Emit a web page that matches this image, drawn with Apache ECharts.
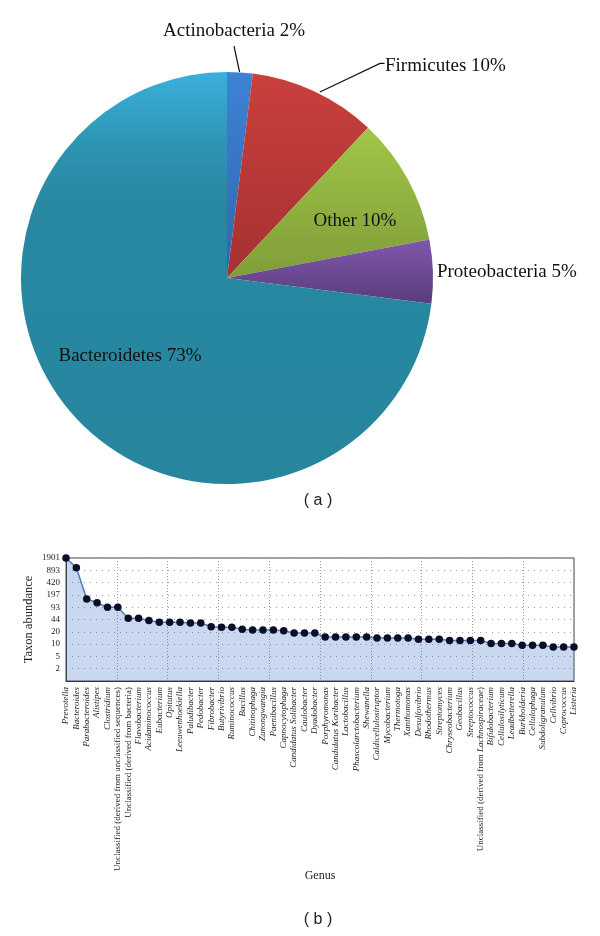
<!DOCTYPE html>
<html><head><meta charset="utf-8">
<script src="https://cdn.jsdelivr.net/npm/echarts@6/dist/echarts.min.js"></script>
<style>html,body{margin:0;padding:0;background:#fff}#c{width:600px;height:936px}</style>
</head><body><div id="c"></div>
<script>
// ---- data ----
const phylaNames = ['Actinobacteria', 'Firmicutes', 'Other', 'Proteobacteria', 'Bacteroidetes'];
const phylaPercents = [2, 10, 10, 5, 73];

const genera = ['Prevotella','Bacteroides','Parabacteroides','Alistipes','Clostridium',
 'Unclassified (derived from unclassified sequences)','Unclassified (derived from bacteria)',
 'Flavobacterium','Acidaminococcus','Eubacterium','Opitutus','Leeuwenhoekiella','Paludibacter',
 'Pedobacter','Fibrobacter','Butyrivibrio','Ruminococcus','Bacillus','Chitinophaga','Zunongwangia',
 'Paenibacillus','Capnocytophaga','Candidatus Solibacter','Caulobacter','Dyadobacter','Porphyromonas',
 'Candidatus Koribacter','Lactobacillus','Phascolarctobacterium','Shewanella','Caldicellulosiruptor',
 'Mycobacterium','Thermotoga','Xanthomonas','Desulfovibrio','Rhodothermus','Streptomyces',
 'Chryseobacterium','Geobacillus','Streptococcus','Unclassified (derived from Lachnospiraceae)',
 'Bifidobacterium','Cellulosilyticum','Leadbetterella','Burkholderia','Cellulophaga',
 'Subdoligranulum','Cellvibrio','Coprococcus','Listeria'];
const abundances = [1901, 1050, 153, 122, 92, 92, 47, 47, 41, 37, 37, 37, 35,
 35, 28, 27, 27, 24, 23, 23, 23, 22, 19, 19, 19, 15,
 15, 15, 15, 15, 14, 14, 14, 14, 13, 13, 13,
 12, 12, 12, 12, 10, 10, 10, 9, 9, 9, 8, 8, 8];
// tick labels from the axis minimum (1) upward
const yTickLabels = ['', '2', '5', '10', '20', '44', '93', '197', '420', '893', '1901'];
const yMin = 1, yMax = 1901;

// ---- styling / layout ----
const serif = 'Liberation Serif';
const pieCenter = [227, 278], pieRadius = 206;
const logBase = Math.pow(yMax / yMin, 1 / (yTickLabels.length - 1));

const sliceColors = {
  Actinobacteria: ['#3f82d4', '#2f66b2'],
  Firmicutes: ['#c9403c', '#a53131'],
  Other: ['#a0c646', '#7f9d3a'],
  Proteobacteria: ['#8058ab', '#5a3c7c']
};
function grad(c) {
  return new echarts.graphic.LinearGradient(0, 0, 0, 1, [{offset: 0, color: c[0]}, {offset: 1, color: c[1]}]);
}
const bacteroidetesFill = new echarts.graphic.LinearGradient(0, 0, 0, 1, [
  {offset: 0, color: '#3ab0dc'}, {offset: 0.18, color: '#2d94b2'},
  {offset: 0.32, color: '#2888a1'}, {offset: 1, color: '#27869e'}]);

// label anchors relative to pie centre, in units of radius
const labelSpots = {
  Actinobacteria: {at: [0.034, -1.2], align: 'center', line: [[0.061, -1.0], [0.034, -1.126]]},
  Firmicutes: {at: [0.767, -1.03], align: 'left', line: [[0.451, -0.903], [0.743, -1.042], [0.765, -1.042]]},
  Other: {at: [0.621, -0.277], align: 'center'},
  Proteobacteria: {at: [1.019, -0.027], align: 'left'},
  Bacteroidetes: {at: [-0.471, 0.381], align: 'center'}
};
function pt(a) { return [pieCenter[0] + a[0] * pieRadius, pieCenter[1] + a[1] * pieRadius]; }

const pieData = phylaNames.map((n, i) => ({
  name: n, value: phylaPercents[i],
  itemStyle: {color: n === 'Bacteroidetes' ? bacteroidetesFill : grad(sliceColors[n])},
  labelLine: {show: !!labelSpots[n].line}
}));

const chart = echarts.init(document.getElementById('c'), null, {renderer: 'canvas'});
chart.setOption({
  animation: false,
  backgroundColor: '#fff',
  title: [
    {text: '( a )', left: 318, top: 493, textAlign: 'center', padding: 0,
     textStyle: {fontFamily: 'Liberation Sans', fontSize: 16, fontWeight: 'normal', color: '#222'}},
    {text: '( b )', left: 318, top: 912, textAlign: 'center', padding: 0,
     textStyle: {fontFamily: 'Liberation Sans', fontSize: 16, fontWeight: 'normal', color: '#222'}}
  ],
  grid: {left: 66, right: 26, top: 558, height: 123, show: true, borderColor: '#444', borderWidth: 1},
  xAxis: [{
    type: 'category', data: genera, boundaryGap: false,
    name: 'Genus', nameLocation: 'middle', nameGap: 189, nameMoveOverlap: false,
    nameTextStyle: {fontFamily: serif, fontSize: 12, color: '#222'},
    axisLine: {lineStyle: {color: '#333', width: 1}},
    axisTick: {show: false},
    axisLabel: {
      interval: 0, rotate: 90, margin: 6, color: '#222', fontFamily: serif, fontSize: 9,
      formatter: function (name) {
        if (name.indexOf('Lachnospiraceae') >= 0) return '{n|Unclassified (derived from }{i|Lachnospiraceae}{n|)}';
        if (name.indexOf('Unclassified') === 0) return '{n|' + name + '}';
        return '{i|' + name + '}';
      },
      rich: {
        n: {fontFamily: serif, fontSize: 9, fontStyle: 'normal', color: '#222'},
        i: {fontFamily: serif, fontSize: 9, fontStyle: 'italic', color: '#222'}
      }
    },
    splitLine: {show: false}
  }, {
    type: 'value', position: 'top', min: 0, max: 10, interval: 1,
    axisLine: {show: false}, axisTick: {show: false}, axisLabel: {show: false},
    splitLine: {show: true, lineStyle: {type: [1, 2], color: '#9a9a9a', width: 1}}
  }],
  yAxis: {
    type: 'log', logBase: logBase, min: yMin, max: yMax, interval: 1, splitNumber: 10,
    name: 'Taxon abundance', nameLocation: 'middle', nameGap: 31, nameRotate: 90, nameMoveOverlap: false,
    nameTextStyle: {fontFamily: serif, fontSize: 12.5, color: '#222'},
    axisLine: {show: true, lineStyle: {color: '#333', width: 1}},
    axisTick: {show: false},
    axisLabel: {
      margin: 6, color: '#222', fontFamily: serif, fontSize: 9,
      formatter: function (v) {
        const k = Math.round(Math.log(v / yMin) / Math.log(logBase));
        return yTickLabels[k] != null ? yTickLabels[k] : '';
      }
    },
    splitLine: {show: true, lineStyle: {type: [1, 5], color: '#9a9a9a', width: 1}}
  },
  series: [{
    type: 'pie', center: pieCenter, radius: pieRadius, startAngle: 90, clockwise: true,
    avoidLabelOverlap: false, silent: true,
    emphasis: {disabled: true},
    data: pieData,
    label: {show: true, position: 'outside', formatter: '{b} {c}%', fontFamily: serif, fontSize: 19, color: '#111'},
    labelLine: {lineStyle: {color: '#111', width: 1.2}},
    labelLayout: function (p) {
      const s = labelSpots[phylaNames[p.dataIndex]];
      const xy = pt(s.at);
      const r = {x: xy[0], y: xy[1], align: s.align, verticalAlign: 'middle'};
      if (s.line) r.labelLinePoints = s.line.map(pt);
      return r;
    }
  }, {
    type: 'line', xAxisIndex: 0, yAxisIndex: 0, data: abundances,
    symbol: 'circle', symbolSize: 7.5, showSymbol: true,
    itemStyle: {color: '#0c0e28'},
    lineStyle: {color: '#4a7ebb', width: 1.5},
    areaStyle: {color: 'rgba(70,120,200,0.42)', origin: 'start'},
    silent: true
  }]
});
</script></body></html>
